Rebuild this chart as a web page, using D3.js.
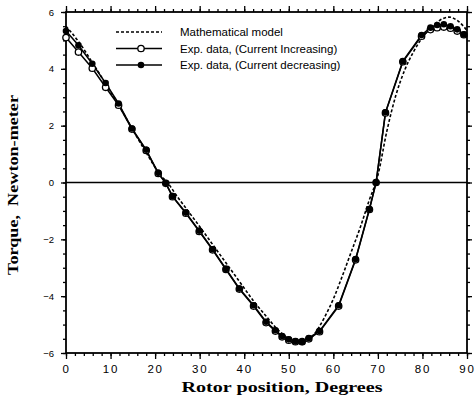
<!DOCTYPE html>
<html>
<head>
<meta charset="utf-8">
<script src="https://cdn.jsdelivr.net/npm/d3@7"></script>
<style>
body { margin: 0; background: #fff; }
text { fill: #000; }
</style>
</head>
<body>
<div id="chart"></div>
<script>
// measured points, rotor position in degrees
var expDeg = [0, 2.8, 5.9, 8.9, 11.8, 14.8, 18, 20.7, 22.4, 23.9, 26.9, 29.9, 32.9, 35.9, 38.9, 42.1,
    44.9, 47, 48.5, 50, 51.5, 53, 54.5, 56.9, 61.2, 65, 68.1, 69.6, 71.7, 75.6, 79.8,
    81.8, 83.3, 84.8, 86.3, 87.8, 89.3];
// torque, current decreasing (filled markers)
var torqueDecreasing = [5.33, 4.83, 4.18, 3.5, 2.78, 1.9, 1.15, 0.34, -0.02, -0.48, -1.06, -1.7, -2.35, -3.04, -3.73, -4.32,
    -4.9, -5.2, -5.4, -5.52, -5.59, -5.61, -5.47, -5.23, -4.32, -2.69, -0.93, 0.01, 2.47, 4.27, 5.19,
    5.45, 5.54, 5.57, 5.5, 5.39, 5.21];
// torque, current increasing (open markers)
var torqueIncreasing = [5.1, 4.59, 4.02, 3.35, 2.72, 1.88, 1.13, 0.32, -0.03, -0.5, -1.08, -1.72, -2.37, -3.06, -3.75, -4.35,
    -4.93, -5.23, -5.43, -5.55, -5.6, -5.6, -5.5, -5.25, -4.35, -2.72, -0.95, 0.0, 2.45, 4.25, 5.15,
    5.38, 5.45, 5.47, 5.43, 5.33, 5.2];
// mathematical model
var modelDeg = [0, 3, 6, 9, 12, 15, 18, 21, 23, 25, 27, 30, 33, 36, 39, 42, 45, 48, 50, 52, 54,
    56, 58, 60, 62, 64, 66, 68, 70, 72, 74, 76, 78, 80, 82, 84, 86, 88, 90];
var modelTorque = [5.5, 4.92, 4.2, 3.45, 2.68, 1.85, 1.05, 0.3, -0.05, -0.5, -0.92, -1.55, -2.2, -2.85, -3.5, -4.15, -4.72, -5.25, -5.5, -5.62, -5.58,
    -5.28, -4.75, -4.1, -3.3, -2.45, -1.6, -0.65, 0.25, 1.8, 3.05, 3.95, 4.6, 5.1, 5.45, 5.72, 5.82, 5.68, 5.35];

var xTicks = [0, 10, 20, 30, 40, 50, 60, 70, 80, 90];
var xMinor = d3.range(0, 91, 2);
var yTicks = [-6, -4, -2, 0, 2, 4, 6];
var yMinor = d3.range(-6, 6.01, 0.5);
var legendLabels = ["Mathematical model", "Exp. data, (Current Increasing)", "Exp. data, (Current decreasing)"];

var W = 475, H = 405;
var margin = {top: 12, right: 8, bottom: 52, left: 66};

var svg = d3.select("#chart").append("svg")
    .attr("width", W)
    .attr("height", H);

var x = d3.scaleLinear().domain([0, 90]).range([margin.left, W - margin.right]);
var y = d3.scaleLinear().domain([-6, 6]).range([H - margin.bottom, margin.top]);

function styleAxis(g) {
    g.select(".domain").remove();
    g.selectAll("line").attr("stroke", "#000").attr("stroke-width", 1.3);
}

// bottom axis
svg.append("g")
    .attr("transform", "translate(0," + y(-6) + ")")
    .call(d3.axisBottom(x).tickValues(xMinor).tickSize(3).tickFormat(""))
    .call(styleAxis);
var xAx = svg.append("g")
    .attr("transform", "translate(0," + y(-6) + ")")
    .call(d3.axisBottom(x).tickValues(xTicks).tickSize(6).tickPadding(6))
    .call(styleAxis);
xAx.selectAll("text")
    .attr("font-family", "Liberation Sans, Arial, sans-serif")
    .attr("font-size", 11.5)
    .attr("letter-spacing", 1.8);

// top axis
svg.append("g")
    .attr("transform", "translate(0," + y(6) + ")")
    .call(d3.axisTop(x).tickValues(xMinor).tickSize(3).tickFormat(""))
    .call(styleAxis);
svg.append("g")
    .attr("transform", "translate(0," + y(6) + ")")
    .call(d3.axisTop(x).tickValues(xTicks).tickSize(6).tickFormat(""))
    .call(styleAxis);

// left axis
svg.append("g")
    .attr("transform", "translate(" + x(0) + ",0)")
    .call(d3.axisLeft(y).tickValues(yMinor).tickSize(3).tickFormat(""))
    .call(styleAxis);
var yAx = svg.append("g")
    .attr("transform", "translate(" + x(0) + ",0)")
    .call(d3.axisLeft(y).tickValues(yTicks).tickSize(5).tickPadding(7).tickFormat(d3.format("d")))
    .call(styleAxis);
yAx.selectAll("text")
    .attr("font-family", "Liberation Sans, Arial, sans-serif")
    .attr("font-size", 9.5);

// right axis
svg.append("g")
    .attr("transform", "translate(" + x(90) + ",0)")
    .call(d3.axisRight(y).tickValues(yMinor).tickSize(3).tickFormat(""))
    .call(styleAxis);
svg.append("g")
    .attr("transform", "translate(" + x(90) + ",0)")
    .call(d3.axisRight(y).tickValues(yTicks).tickSize(5).tickFormat(""))
    .call(styleAxis);

// frame
svg.append("rect")
    .attr("x", x(0)).attr("y", y(6))
    .attr("width", x(90) - x(0)).attr("height", y(-6) - y(6))
    .attr("fill", "none").attr("stroke", "#000").attr("stroke-width", 1.8);

// zero line
svg.append("line")
    .attr("x1", x(0)).attr("x2", x(90))
    .attr("y1", y(0)).attr("y2", y(0))
    .attr("stroke", "#000").attr("stroke-width", 1.5);

var line = d3.line().x(function(d) { return x(d[0]); }).y(function(d) { return y(d[1]); });

var modelPts = modelDeg.map(function(d, i) { return [d, modelTorque[i]]; });
var incPts = expDeg.map(function(d, i) { return [d, torqueIncreasing[i]]; });
var decPts = expDeg.map(function(d, i) { return [d, torqueDecreasing[i]]; });

svg.append("path")
    .datum(modelPts)
    .attr("d", line.curve(d3.curveMonotoneX))
    .attr("fill", "none").attr("stroke", "#000")
    .attr("stroke-width", 1.6).attr("stroke-dasharray", "3,2");

line.curve(d3.curveLinear);
[incPts, decPts].forEach(function(pts) {
    svg.append("path")
        .datum(pts)
        .attr("d", line)
        .attr("fill", "none").attr("stroke", "#000").attr("stroke-width", 1.5);
});

svg.append("g").selectAll("circle")
    .data(incPts).enter().append("circle")
    .attr("cx", function(d) { return x(d[0]); })
    .attr("cy", function(d) { return y(d[1]); })
    .attr("r", 3.2)
    .attr("fill", "#fff").attr("stroke", "#000").attr("stroke-width", 1.3);

svg.append("g").selectAll("circle")
    .data(decPts).enter().append("circle")
    .attr("cx", function(d) { return x(d[0]); })
    .attr("cy", function(d) { return y(d[1]); })
    .attr("r", 3.3)
    .attr("fill", "#000");

// legend
var legend = svg.append("g").attr("transform", "translate(116,32)");
legendLabels.forEach(function(lab, i) {
    var row = legend.append("g").attr("transform", "translate(0," + (i * 16.5) + ")");
    var ln = row.append("line")
        .attr("x1", 0).attr("x2", 46).attr("y1", 0).attr("y2", 0)
        .attr("stroke", "#000").attr("stroke-width", 1.5);
    if (i == 0) ln.attr("stroke-dasharray", "3,2").attr("stroke-width", 1.6);
    if (i == 1) row.append("circle").attr("cx", 25).attr("cy", 0).attr("r", 3.2)
        .attr("fill", "#fff").attr("stroke", "#000").attr("stroke-width", 1.3);
    if (i == 2) row.append("circle").attr("cx", 25).attr("cy", 0).attr("r", 3.3).attr("fill", "#000");
    row.append("text")
        .attr("x", 64).attr("y", 4)
        .attr("font-family", "Liberation Sans, Arial, sans-serif")
        .attr("font-size", 11.5)
        .text(lab);
});

// axis titles
svg.append("text")
    .attr("x", 282).attr("y", 392)
    .attr("text-anchor", "middle")
    .attr("font-family", "Liberation Serif, Times New Roman, serif")
    .attr("font-weight", "bold")
    .attr("font-size", 15)
    .attr("textLength", 201).attr("lengthAdjust", "spacingAndGlyphs")
    .text("Rotor position, Degrees");

svg.append("text")
    .attr("transform", "translate(18,185) rotate(-90)")
    .attr("text-anchor", "middle")
    .attr("font-family", "Liberation Serif, Times New Roman, serif")
    .attr("font-weight", "bold")
    .attr("font-size", 15)
    .style("white-space", "pre")
    .attr("textLength", 180).attr("lengthAdjust", "spacingAndGlyphs")
    .text("Torque,  Newton-meter");
</script>
</body>
</html>
